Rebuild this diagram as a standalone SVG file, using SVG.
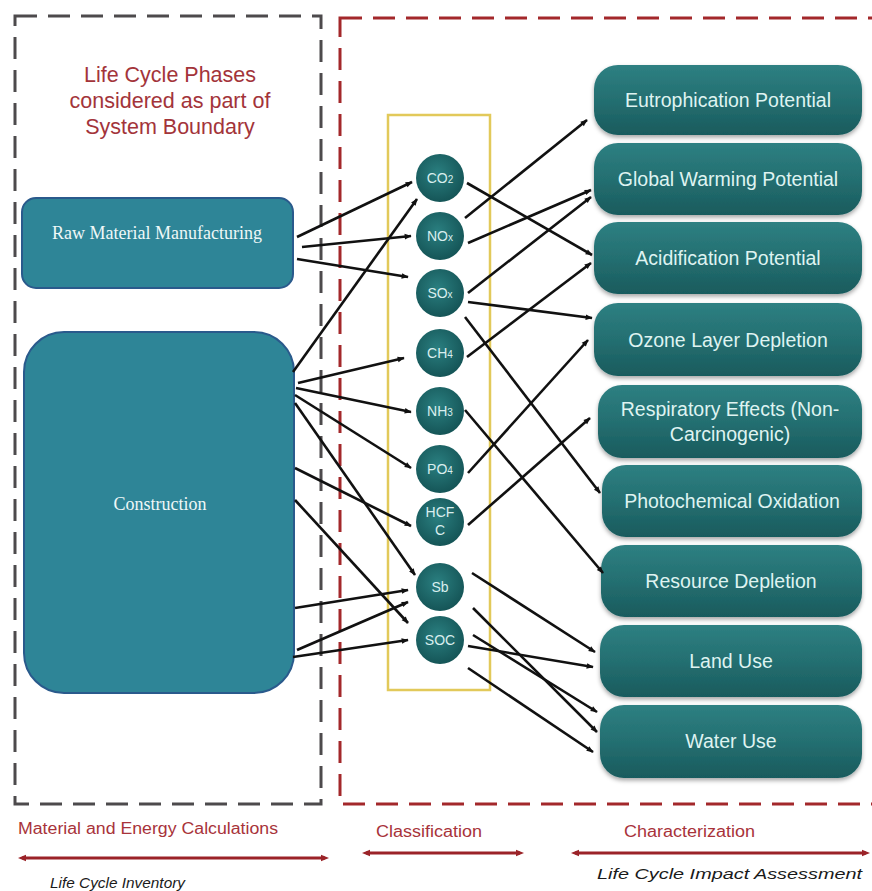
<svg xmlns="http://www.w3.org/2000/svg" width="872" height="891" viewBox="0 0 872 891">
  <defs>
    <style>
      .bound-grey { fill: none; stroke: #4d4a4c; stroke-width: 3; stroke-dasharray: 22 11; }
      .bound-red { fill: none; stroke: #a3282b; stroke-width: 3; stroke-dasharray: 22 11; }
      .title { font-family: "Liberation Sans", Arial, sans-serif; font-size: 21.5px; fill: #a3343a; text-anchor: middle; }
      .phase { fill: #2e8597; stroke: #2a5a8c; stroke-width: 2; }
      .phase-text { font-family: "Liberation Serif", "Times New Roman", serif; font-size: 18px; fill: #eef8f8; text-anchor: middle; }
      .sub-box { fill: none; stroke: #e2c95a; stroke-width: 2.5; }
      .gas { fill: url(#gasFill); }
      .gas-text { font-family: "Liberation Sans", Arial, sans-serif; font-size: 14px; fill: #d9eeee; text-anchor: middle; }
      .gas-text tspan.s { font-size: 10px; }
      .impact { fill: url(#impactFill); filter: url(#shade); }
      .impact-text { font-family: "Liberation Sans", Arial, sans-serif; font-size: 19.5px; fill: #dff3f1; text-anchor: middle; }
      .link { fill: none; stroke: #111; stroke-width: 2.6; marker-end: url(#head); }
      .stage { font-family: "Liberation Sans", Arial, sans-serif; font-size: 16px; fill: #a8333a; }
      .stage-arrow { stroke: #9b2328; stroke-width: 3.2; marker-start: url(#redHead); marker-end: url(#redHead); }
      .caption { font-family: "Liberation Sans", Arial, sans-serif; font-size: 15px; font-style: italic; fill: #1a1a1a; }
    </style>
    <radialGradient id="gasFill" cx="0.45" cy="0.4" r="0.6">
      <stop offset="0" stop-color="#2a7f80"/>
      <stop offset="1" stop-color="#155557"/>
    </radialGradient>
    <linearGradient id="impactFill" x1="0" y1="0" x2="0" y2="1">
      <stop offset="0" stop-color="#2e8082"/>
      <stop offset="0.5" stop-color="#246f71"/>
      <stop offset="1" stop-color="#195b5d"/>
    </linearGradient>
    <filter id="shade" x="-5%" y="-10%" width="110%" height="125%">
      <feDropShadow dx="0" dy="2.5" stdDeviation="2" flood-color="#000" flood-opacity="0.35"/>
    </filter>
    <marker id="head" viewBox="0 0 10 10" refX="9" refY="5" markerUnits="userSpaceOnUse" markerWidth="11" markerHeight="7" orient="auto">
      <path d="M0,1 L10,5 L0,9 z" fill="#111"/>
    </marker>
    <marker id="redHead" viewBox="0 0 10 10" refX="5" refY="5" markerUnits="userSpaceOnUse" markerWidth="10" markerHeight="8" orient="auto-start-reverse">
      <path d="M0,1 L10,5 L0,9 z" fill="#9b2328"/>
    </marker>
  </defs>

  <rect width="872" height="891" fill="#ffffff"/>

  <!-- system boundaries -->
  <g id="boundaries">
    <rect class="bound-grey" x="15" y="16" width="306" height="788"/>
    <rect class="bound-red" x="340" y="18" width="560" height="786"/>
  </g>

  <g id="boundary-title">
    <text class="title" x="170" y="82">Life Cycle Phases</text>
    <text class="title" x="170" y="108">considered as part of</text>
    <text class="title" x="170" y="134">System Boundary</text>
  </g>

  <!-- life cycle phases -->
  <g id="raw-material">
    <rect class="phase" x="22" y="198" width="271" height="90" rx="14"/>
    <text class="phase-text" x="157" y="239">Raw Material Manufacturing</text>
  </g>
  <g id="construction">
    <rect class="phase" x="24" y="332" width="270" height="361" rx="40"/>
    <text class="phase-text" x="160" y="510">Construction</text>
  </g>

  <!-- classification column -->
  <g id="classification">
    <rect class="sub-box" x="388" y="115" width="102" height="575"/>
  </g>

  <g id="co2"><circle class="gas" cx="440" cy="178" r="24"/><text class="gas-text" x="440" y="183">CO<tspan class="s">2</tspan></text></g>
  <g id="nox"><circle class="gas" cx="440" cy="236" r="24"/><text class="gas-text" x="440" y="241">NO<tspan class="s">x</tspan></text></g>
  <g id="sox"><circle class="gas" cx="440" cy="293" r="24"/><text class="gas-text" x="440" y="298">SO<tspan class="s">x</tspan></text></g>
  <g id="ch4"><circle class="gas" cx="440" cy="353" r="24"/><text class="gas-text" x="440" y="358">CH<tspan class="s">4</tspan></text></g>
  <g id="nh3"><circle class="gas" cx="440" cy="411" r="24"/><text class="gas-text" x="440" y="416">NH<tspan class="s">3</tspan></text></g>
  <g id="po4"><circle class="gas" cx="440" cy="469" r="24"/><text class="gas-text" x="440" y="474">PO<tspan class="s">4</tspan></text></g>
  <g id="hcfc"><circle class="gas" cx="440" cy="522" r="24"/><text class="gas-text" x="440" y="517">HCF</text><text class="gas-text" x="440" y="535">C</text></g>
  <g id="sb"><circle class="gas" cx="440" cy="587" r="24"/><text class="gas-text" x="440" y="592">Sb</text></g>
  <g id="soc"><circle class="gas" cx="440" cy="640" r="24"/><text class="gas-text" x="440" y="645">SOC</text></g>

  <!-- impact categories -->
  <g id="eutrophication"><rect class="impact" x="594" y="65" width="268" height="70" rx="24"/><text class="impact-text" x="728" y="107">Eutrophication Potential</text></g>
  <g id="global-warming"><rect class="impact" x="594" y="143" width="268" height="72" rx="24"/><text class="impact-text" x="728" y="186">Global Warming Potential</text></g>
  <g id="acidification"><rect class="impact" x="594" y="222" width="268" height="72" rx="24"/><text class="impact-text" x="728" y="265">Acidification Potential</text></g>
  <g id="ozone"><rect class="impact" x="594" y="303" width="268" height="73" rx="24"/><text class="impact-text" x="728" y="347">Ozone Layer Depletion</text></g>
  <g id="respiratory"><rect class="impact" x="598" y="385" width="264" height="73" rx="24"/><text class="impact-text" x="730" y="416">Respiratory Effects (Non-</text><text class="impact-text" x="730" y="441">Carcinogenic)</text></g>
  <g id="photochemical"><rect class="impact" x="602" y="465" width="260" height="72" rx="24"/><text class="impact-text" x="732" y="508">Photochemical Oxidation</text></g>
  <g id="resource"><rect class="impact" x="601" y="545" width="261" height="72" rx="24"/><text class="impact-text" x="731" y="588">Resource Depletion</text></g>
  <g id="land-use"><rect class="impact" x="600" y="625" width="262" height="72" rx="24"/><text class="impact-text" x="731" y="668">Land Use</text></g>
  <g id="water-use"><rect class="impact" x="600" y="705" width="262" height="73" rx="24"/><text class="impact-text" x="731" y="748">Water Use</text></g>

  <!-- flows: phases to substances, substances to impacts -->
  <g id="connectors">
    <line class="link" x1="297" y1="237" x2="412" y2="182"/>
    <line class="link" x1="302" y1="247" x2="411" y2="236"/>
    <line class="link" x1="297" y1="259" x2="408" y2="277"/>
    <line class="link" x1="293" y1="372" x2="417" y2="199"/>
    <line class="link" x1="298" y1="383" x2="404" y2="358"/>
    <line class="link" x1="296" y1="388" x2="411" y2="412"/>
    <line class="link" x1="295" y1="395" x2="411" y2="468"/>
    <line class="link" x1="295" y1="403" x2="415" y2="575"/>
    <line class="link" x1="295" y1="468" x2="411" y2="526"/>
    <line class="link" x1="295" y1="500" x2="408" y2="623"/>
    <line class="link" x1="295" y1="608" x2="408" y2="590"/>
    <line class="link" x1="297" y1="650" x2="408" y2="602"/>
    <line class="link" x1="293" y1="657" x2="408" y2="640"/>

    <line class="link" x1="467" y1="183" x2="592" y2="255"/>
    <line class="link" x1="465" y1="218" x2="587" y2="120"/>
    <line class="link" x1="468" y1="243" x2="591" y2="190"/>
    <line class="link" x1="468" y1="293" x2="591" y2="197"/>
    <line class="link" x1="467" y1="357" x2="591" y2="263"/>
    <line class="link" x1="468" y1="302" x2="592" y2="318"/>
    <line class="link" x1="465" y1="317" x2="600" y2="493"/>
    <line class="link" x1="468" y1="473" x2="588" y2="340"/>
    <line class="link" x1="468" y1="525" x2="590" y2="418"/>
    <line class="link" x1="465" y1="410" x2="603" y2="573"/>
    <line class="link" x1="472" y1="573" x2="595" y2="652"/>
    <line class="link" x1="473" y1="608" x2="597" y2="732"/>
    <line class="link" x1="468" y1="646" x2="593" y2="667"/>
    <line class="link" x1="473" y1="635" x2="597" y2="712"/>
    <line class="link" x1="468" y1="668" x2="593" y2="752"/>
  </g>

  <!-- stage legend -->
  <g id="stages">
    <text class="stage" x="18" y="834" textLength="260" lengthAdjust="spacingAndGlyphs">Material and Energy Calculations</text>
    <text class="stage" x="376" y="837" textLength="106" lengthAdjust="spacingAndGlyphs">Classification</text>
    <text class="stage" x="624" y="837" textLength="131" lengthAdjust="spacingAndGlyphs">Characterization</text>
    <line class="stage-arrow" x1="22" y1="858" x2="325" y2="858"/>
    <line class="stage-arrow" x1="366" y1="853" x2="520" y2="853"/>
    <line class="stage-arrow" x1="575" y1="853" x2="866" y2="853"/>
    <text class="caption" x="50" y="888" textLength="135" lengthAdjust="spacingAndGlyphs">Life Cycle Inventory</text>
    <text class="caption" x="597" y="879" textLength="265" lengthAdjust="spacingAndGlyphs">Life Cycle Impact Assessment</text>
  </g>
</svg>
